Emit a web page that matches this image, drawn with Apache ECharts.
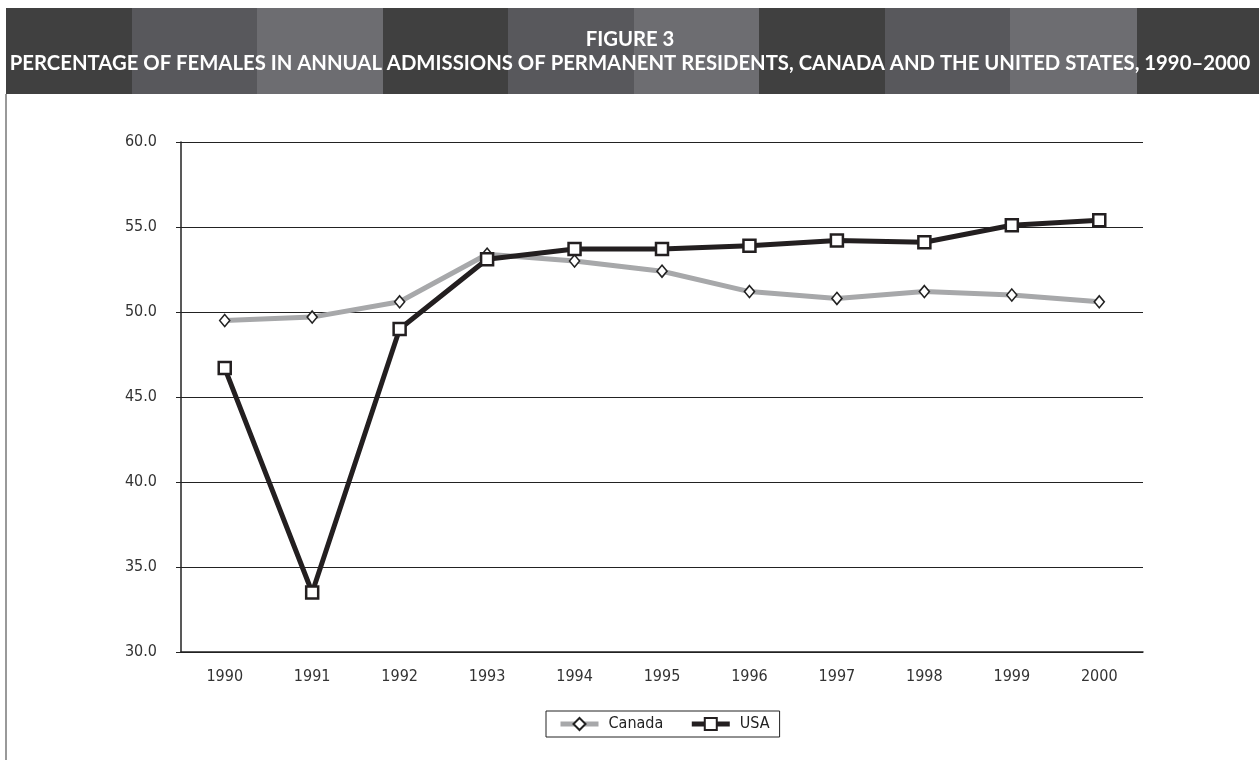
<!DOCTYPE html>
<html>
<head>
<meta charset="utf-8">
<script src="https://cdn.jsdelivr.net/npm/echarts@6/dist/echarts.min.js"></script>
<style>
  html, body { margin: 0; padding: 0; background: #fff; }
  #chart { width: 1259px; height: 760px; }
</style>
</head>
<body>
<div id="chart"></div>
<script>
const years = ['1990', '1991', '1992', '1993', '1994', '1995', '1996', '1997', '1998', '1999', '2000'];
const canada = [49.5, 49.7, 50.6, 53.4, 53.0, 52.4, 51.2, 50.8, 51.2, 51.0, 50.6];
const usa = [46.7, 33.5, 49.0, 53.1, 53.7, 53.7, 53.9, 54.2, 54.1, 55.1, 55.4];

// header stripes: dark / mid / light repeating
const stripeColors = ['#404040', '#58585c', '#6d6d71'];
const stripeEdges = [6, 132, 257, 383, 508, 634, 759, 885, 1010, 1137, 1259];

const stripes = [];
for (let i = 0; i < stripeEdges.length - 1; i++) {
  stripes.push({
    type: 'rect',
    z: -10,
    shape: { x: stripeEdges[i], y: 8, width: stripeEdges[i + 1] - stripeEdges[i], height: 86 },
    style: { fill: stripeColors[i % 3] }
  });
}

const labelFont = "'Liberation Sans Narrow', 'DejaVu Sans Condensed', Lato, sans-serif";

const chart = echarts.init(document.getElementById('chart'));

chart.setOption({
  animation: false,
  backgroundColor: '#fff',
  title: {
    text: 'FIGURE 3\nPERCENTAGE OF FEMALES IN ANNUAL ADMISSIONS OF PERMANENT RESIDENTS, CANADA AND THE UNITED STATES, 1990–2000',
    left: 630,
    top: 27,
    padding: 0,
    textAlign: 'center',
    textStyle: {
      color: '#fff',
      fontFamily: 'Lato, sans-serif',
      fontWeight: 'bold',
      fontSize: 20.3,
      lineHeight: 24,
      align: 'center'
    }
  },
  graphic: stripes.concat([
    {
      type: 'line',
      shape: { x1: 6, y1: 94, x2: 6, y2: 760 },
      style: { stroke: '#777', lineWidth: 1.5 }
    }
  ]),
  grid: { left: 181, right: 116, top: 142, bottom: 108 },
  legend: {
    left: 546,
    top: 711,
    data: ['Canada', 'USA'],
    borderColor: '#222',
    borderWidth: 1,
    borderRadius: 0,
    padding: [5, 10, 5, 12],
    itemWidth: 38,
    itemHeight: 15,
    itemGap: 26,
    lineStyle: { width: 5 },
    itemStyle: { borderWidth: 2 },
    textStyle: { fontFamily: labelFont, fontSize: 16, color: '#222', padding: [0, 0, 0, 5] }
  },
  xAxis: {
    type: 'category',
    data: years,
    boundaryGap: true,
    axisLine: { lineStyle: { color: '#222', width: 1.5 } },
    axisTick: { length: 5, lineStyle: { color: '#222' } },
    axisLabel: { fontFamily: labelFont, fontSize: 16, color: '#333', margin: 17 }
  },
  yAxis: {
    type: 'value',
    min: 30,
    max: 60,
    interval: 5,
    axisLine: { show: true, lineStyle: { color: '#222', width: 1.5 } },
    axisTick: { show: true, length: 5, lineStyle: { color: '#222' } },
    axisLabel: {
      fontFamily: labelFont, fontSize: 16, color: '#333', margin: 24,
      formatter: v => v.toFixed(1)
    },
    splitLine: { lineStyle: { color: '#222', width: 1.2 } }
  },
  series: [
    {
      name: 'Canada',
      type: 'line',
      data: canada,
      symbol: 'diamond',
      symbolSize: [10, 12],
      lineStyle: { color: '#a7a8aa', width: 5 },
      itemStyle: { color: '#fff', borderColor: '#222', borderWidth: 1.6 },
      z: 2
    },
    {
      name: 'USA',
      type: 'line',
      data: usa,
      symbol: 'rect',
      symbolSize: 12,
      lineStyle: { color: '#231f20', width: 5 },
      itemStyle: { color: '#fff', borderColor: '#231f20', borderWidth: 2.5 },
      z: 3
    }
  ]
});
</script>
</body>
</html>
